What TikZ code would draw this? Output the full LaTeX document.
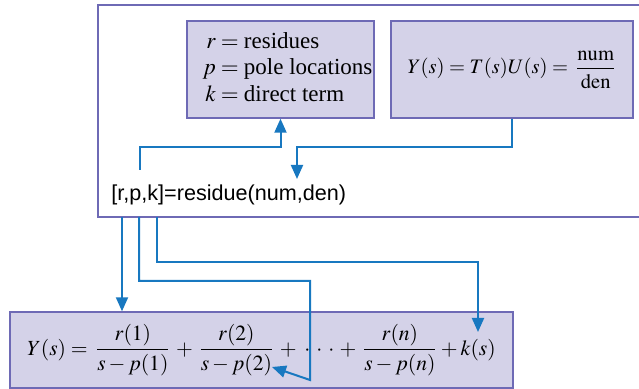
\documentclass[tikz,border=0pt]{standalone}
\usepackage{mathptmx}
\usepackage{fontspec}
\setmainfont{Liberation Serif}
\setsansfont{Liberation Sans}
\usetikzlibrary{arrows.meta}
\definecolor{boxfill}{RGB}{212,210,232}
\definecolor{boxline}{RGB}{110,106,181}
\definecolor{flowblue}{RGB}{24,120,192}
\begin{document}
\begin{tikzpicture}[x=0.5pt, y=0.5pt,
    infobox/.style={draw=boxline, line width=0.7pt, fill=boxfill, inner sep=0pt},
    flow/.style={draw=flowblue, line width=1pt, -{Triangle[length=7pt, width=6pt]}}]
  \useasboundingbox (0, 0) rectangle (639, 389);

  % Frame round the command (open to the right)
  \draw[boxline, line width=0.7pt] (642, 384) -- (98, 384) -- (98, 172) -- (642, 172);

  % Output description and transfer function
  \node[infobox, font=\fontsize{11.5}{13.4}\selectfont, minimum width=93.5pt, minimum height=48.5pt] (outputs) at (280.5, 319.5)
    {\begin{tabular}{@{\hspace{7pt}}r@{${}={}$}l@{}}
       $r$ & residues\\
       $p$ & pole locations\\
       $k$ & direct term
     \end{tabular}};
  \node[infobox, font=\fontsize{10.3}{13}\selectfont, minimum width=121pt, minimum height=48.5pt] (tf) at (512, 319.5)
    {$\displaystyle Y(s) = T(s)U(s) = \,\frac{\mathrm{num}}{\mathrm{den}}$};

  % The command
  \node[anchor=base west, inner sep=0pt, font=\sffamily\fontsize{10.8}{12}\selectfont] (cmd) at (111, 188)
    {[r,p,k]=residue(num,den)};

  % Partial fraction expansion
  \node[infobox, font=\fontsize{10.8}{13}\selectfont, minimum width=251.5pt, minimum height=38pt] (expansion) at (261.5, 39)
    {$\displaystyle Y(s) = \,\frac{r(1)}{s-p(1)} \,+\, \frac{r(2)}{s-p(2)} \,+\;
      {\cdot}\hspace{3pt}{\cdot}\hspace{3pt}{\cdot} \,+\, \frac{r(n)}{s-p(n)} + k(s)$};

  % Connector ends at the command
  \coordinate (cmdOut) at (140, 219);
  \coordinate (cmdIn) at (297, 210);
  \coordinate (resOut) at (122, 172);
  \coordinate (poleOut) at (139, 172);
  \coordinate (termOut) at (157, 172);
  \coordinate (poleTip) at (272, 22);
  \coordinate (termTip) at (478, 57);

  % Arrows in the frame
  \draw[flow] (cmdOut) -- (140, 242) -| (outputs.south);
  \draw[flow] (tf.south) |- (297, 242) -- (cmdIn);

  % Arrows to the expansion
  \draw[flow] (resOut) -- (resOut |- expansion.north);
  \draw[flow] (poleOut) |- (310, 108) -- (310, 9) -- (poleTip);
  \draw[flow] (termOut) |- (478, 127) -- (termTip);
\end{tikzpicture}
\end{document}
